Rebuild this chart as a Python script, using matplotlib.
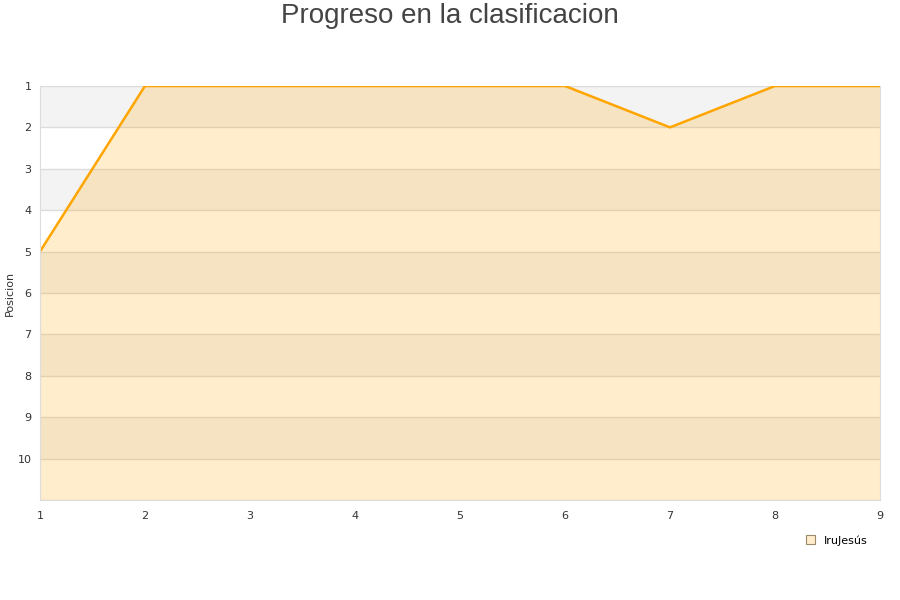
import matplotlib.pyplot as plt
from matplotlib.patches import Patch

jornadas = [1, 2, 3, 4, 5, 6, 7, 8, 9]
posicion = [5, 1, 1, 1, 1, 1, 2, 1, 1]
equipo = "IruJesús"

fig = plt.figure(figsize=(9, 6), dpi=100)
ax = fig.add_axes([0.0444, 0.1667, 0.9334, 0.69])

# bandas alternas de fondo
for y0 in range(1, 11, 2):
    ax.axhspan(y0, y0 + 1, color="#f3f3f3", zorder=0, lw=0)
for y in range(1, 12):
    ax.axhline(y, color="#dcdcdc", lw=1, zorder=0.5)

ax.fill_between(jornadas, posicion, 11, color="#ffa500", alpha=0.2, lw=0, zorder=1)
ax.plot(jornadas, posicion, color="#ffa500", lw=1.8, zorder=2)

ax.set_xlim(1, 9)
ax.set_ylim(11, 1)
ax.set_xticks(jornadas)
ax.set_yticks(range(1, 11))
ax.tick_params(length=0, labelsize=8, colors="#333333")
ax.tick_params(axis="x", pad=8)
ax.tick_params(axis="y", pad=6)
for s in ax.spines.values():
    s.set_color("#dddddd")
ax.spines["top"].set_visible(False)
ax.set_ylabel("Posicion", fontsize=8, color="#333333")
ax.yaxis.set_label_coords(-0.03, 0.5)

fig.suptitle("Progreso en la clasificacion", fontsize=20, color="#444444",
             y=0.995, family="Liberation Sans")

fig.legend(handles=[Patch(facecolor="#ffedcc", edgecolor="#9a8a6a", lw=0.8)],
           labels=[equipo], loc="upper right", bbox_to_anchor=(0.975, 0.125),
           frameon=False, fontsize=8, handlelength=0.8, handleheight=0.8)

fig.savefig("out.png")
